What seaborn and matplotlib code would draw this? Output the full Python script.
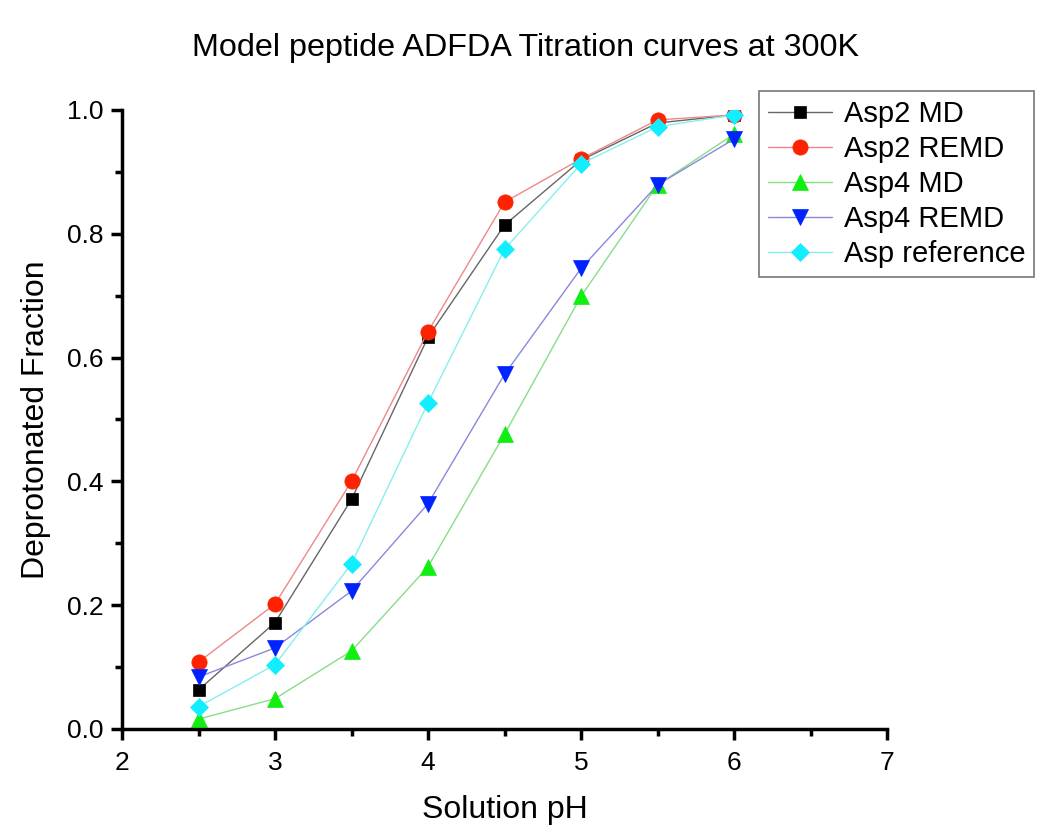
import matplotlib
matplotlib.use("Agg")
import matplotlib.pyplot as plt
import seaborn as sns
import pandas as pd
from matplotlib.ticker import MultipleLocator

sns.set_style("ticks")
plt.rcParams['font.family'] = ['Liberation Sans', 'DejaVu Sans']
plt.rcParams['text.color'] = 'black'
plt.rcParams['axes.labelcolor'] = 'black'

ph = [2.5, 3.0, 3.5, 4.0, 4.5, 5.0, 5.5, 6.0]
asp2_md = [0.063, 0.172, 0.371, 0.633, 0.814, 0.919, 0.979, 0.992]
asp2_remd = [0.108, 0.202, 0.400, 0.642, 0.851, 0.921, 0.984, 0.992]
asp4_md = [0.016, 0.049, 0.126, 0.262, 0.476, 0.699, 0.879, 0.961]
asp4_remd = [0.084, 0.131, 0.223, 0.364, 0.573, 0.744, 0.879, 0.953]
asp_ref = [0.036, 0.104, 0.267, 0.527, 0.775, 0.913, 0.973, 0.992]

series_names = ["Asp2 MD", "Asp2 REMD", "Asp4 MD", "Asp4 REMD", "Asp reference"]
series_vals = [asp2_md, asp2_remd, asp4_md, asp4_remd, asp_ref]
markers = ["s", "o", "^", "v", "D"]
marker_colors = ["#000000", "#ff2200", "#11ee11", "#0022ff", "#11eeff"]
line_colors = ["#666666", "#ee8888", "#88dd88", "#8888dd", "#88eeee"]
marker_sizes = [9, 11, 11, 11, 9]

fig = plt.figure(figsize=(10.5, 8.4), dpi=100)
ax = fig.add_axes([122/1050, 1 - 729/840, (887-122)/1050, (729-110)/840])

for name, vals, mk, mc, lc, ms in zip(series_names, series_vals, markers, marker_colors, line_colors, marker_sizes):
    df = pd.DataFrame({"pH": ph, "frac": vals})
    sns.lineplot(data=df, x="pH", y="frac", ax=ax, color=lc, linewidth=1.0,
                 marker=mk, markersize=ms, markerfacecolor=mc, markeredgecolor=mc,
                 markeredgewidth=0.5, label=name)

ax.set_xlim(2, 7)
ax.set_ylim(0, 1.0)
ax.xaxis.set_major_locator(MultipleLocator(1))
ax.xaxis.set_minor_locator(MultipleLocator(0.5))
ax.yaxis.set_major_locator(MultipleLocator(0.2))
ax.yaxis.set_minor_locator(MultipleLocator(0.1))
ax.yaxis.set_major_formatter(matplotlib.ticker.FormatStrFormatter('%.1f'))
ax.tick_params(which='major', direction='out', length=8, width=2.5, labelsize=19,
               colors='black', labelcolor='black')
ax.tick_params(axis='x', which='major', pad=8)
ax.tick_params(axis='y', which='major', pad=5)
ax.tick_params(which='minor', direction='out', length=5, width=2.5, colors='black')
for s in ['top', 'right']:
    ax.spines[s].set_visible(False)
for s in ['left', 'bottom']:
    ax.spines[s].set_linewidth(2.5)
    ax.spines[s].set_color('black')

ax.set_xlabel("Solution pH", fontsize=23, labelpad=14)
ax.set_ylabel("Deprotonated Fraction", fontsize=23, labelpad=12)
fig.text(0.5, 1 - 48/840, "Model peptide ADFDA Titration curves at 300K", ha='center', va='center',
         fontsize=23.3, color='black')

leg = ax.legend(loc='upper right', bbox_to_anchor=(1034/1050, 1 - 91/840), bbox_transform=fig.transFigure,
                fontsize=21, frameon=True, fancybox=False, edgecolor='#555555', handlelength=2.2,
                borderpad=0.3, labelspacing=0.24, handletextpad=0.4, borderaxespad=0)
leg.get_frame().set_linewidth(1.2)
for t in leg.get_texts():
    t.set_color('black')

fig.savefig("out.png", dpi=100)
